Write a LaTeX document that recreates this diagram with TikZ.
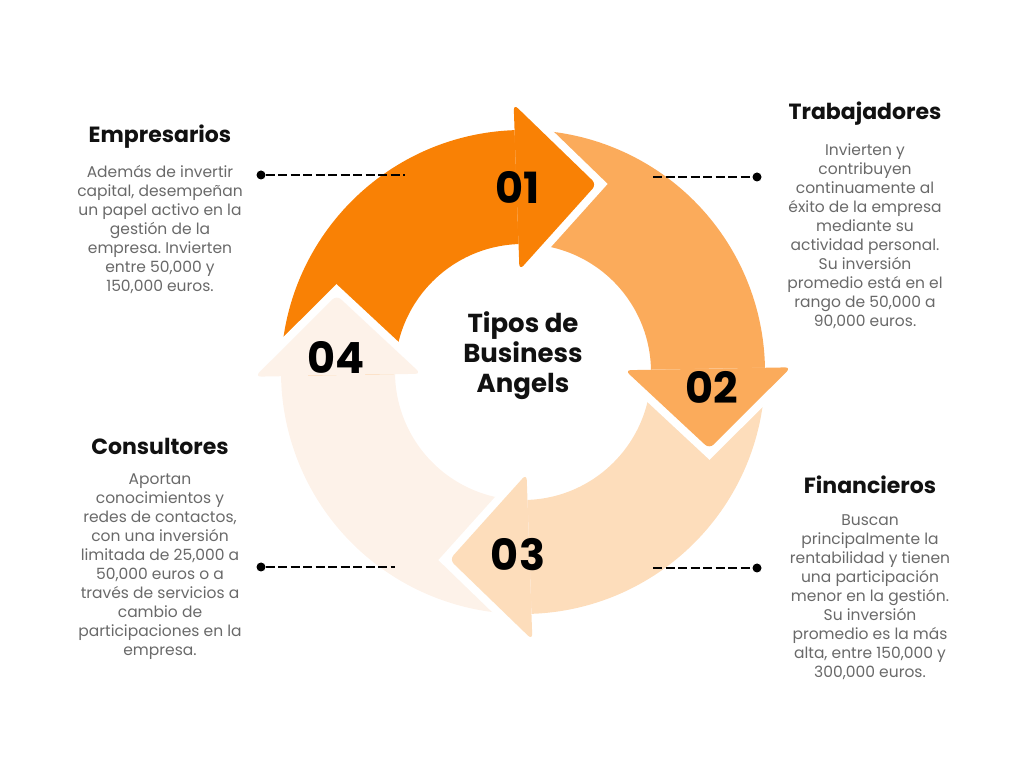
\documentclass[tikz,border=0pt]{standalone}
\usepackage{fontspec}
\setmainfont{Poppins}
\frenchspacing
\usetikzlibrary{calc}
\definecolor{segone}{RGB}{249,129,5}
\definecolor{segtwo}{RGB}{251,171,91}
\definecolor{segthree}{RGB}{253,221,187}
\definecolor{segfour}{RGB}{253,242,233}
\definecolor{titlegray}{RGB}{17,17,17}
\definecolor{descgray}{RGB}{105,105,105}
\tikzset{
  gapline/.style={white, line width=16pt},
  numlabel/.style={font=\bfseries\fontsize{43}{43}\selectfont, text=black},
  hublabel/.style={align=center, font=\bfseries\fontsize{26}{30}\selectfont, text=titlegray},
  kindtitle/.style={font=\bfseries\fontsize{22}{26}\selectfont, text=titlegray},
  kinddesc/.style={align=center, font=\fontsize{15.5}{19}\selectfont, text=descgray},
  leader/.style={line width=2.5pt, dash pattern=on 9pt off 3.5pt},
  leaderdot/.style={circle, fill=black, inner sep=0pt, minimum size=9pt}
}
% body of one ring part: start angle, end angle, colour
\newcommand{\ringpart}[3]{ \fill[#3] ($(ctr)+(#1:242pt)$) arc[start angle=#1, end angle=#2, radius=242pt] -- ($(ctr)+(#2:128pt)$) arc[start angle=#2, end angle=#1, radius=128pt] -- cycle;}
% head of one ring part: base angle, colour
\newcommand{\ringhead}[2]{
  \draw[gapline] ($(ctr)+(#1:268pt)$) -- ($(ctr)+(#1:185pt)+(#1-90:80pt)$) -- ($(ctr)+(#1:102pt)$);
  \fill[#2, rounded corners=6pt] ($(ctr)+(#1:268pt)$) -- ($(ctr)+(#1:185pt)+(#1-90:80pt)$) -- ($(ctr)+(#1:102pt)$) -- cycle;}
\begin{document}
\begin{tikzpicture}[x=1pt, y=1pt]
  \useasboundingbox (0,0) rectangle (1024,768);
  \coordinate (ctr) at (523,396);

  % ring
  \ringpart{181}{92}{segone}
  \ringpart{92}{1}{segtwo}
  \ringpart{1}{-88}{segthree}
  \ringpart{-88}{-179}{segfour}

  \ringhead{92}{segone}
  \ringhead{1}{segtwo}
  \ringhead{-88}{segthree}
  \ringhead{-179}{segfour}

  \node[numlabel] (nOne) at (518,581) {01};
  \node[numlabel] (nTwo) at (712,381) {02};
  \node[numlabel] (nThree) at (518,213) {03};
  \node[numlabel] (nFour) at (336,411) {04};
  \node[hublabel] (hub) at (523,412) {Tipos de\\Business\\Angels};

  % left column
  \node[kindtitle] (tEmp) at (160,631) {Empresarios};
  \node[kinddesc] (dEmp) at (160,538) {Además de invertir\\capital, desempeñan\\un papel activo en la\\gestión de la\\empresa. Invierten\\entre 50,000 y\\150,000 euros.};
  \node[kindtitle] (tCon) at (160,322) {Consultores};
  \node[kinddesc] (dCon) at (160,201.5) {Aportan\\conocimientos y\\redes de contactos,\\con una inversión\\limitada de 25,000 a\\50,000 euros o a\\través de servicios a\\cambio de\\participaciones en la\\empresa.};

  % right column
  \node[kindtitle] (tTra) at (865,654) {Trabajadores};
  \node[kinddesc] (dTra) at (865,531.5) {Invierten y\\contribuyen\\continuamente al\\éxito de la empresa\\mediante su\\actividad personal.\\Su inversión\\promedio está en el\\rango de 50,000 a\\90,000 euros.};
  \node[kindtitle] (tFin) at (870,283) {Financieros};
  \node[kinddesc] (dFin) at (870,171) {Buscan\\principalmente la\\rentabilidad y tienen\\una participación\\menor en la gestión.\\Su inversión\\promedio es la más\\alta, entre 150,000 y\\300,000 euros.};

  % leaders
  \node[leaderdot] (dotEmp) at (261,593) {};
  \coordinate (endEmp) at (405,593);
  \draw[leader] (dotEmp) -- (endEmp);
  \node[leaderdot] (dotTra) at (757,591) {};
  \coordinate (endTra) at (653,591);
  \draw[leader] (endTra) -- (dotTra);
  \node[leaderdot] (dotCon) at (261,201) {};
  \coordinate (endCon) at (395,201);
  \draw[leader] (dotCon) -- (endCon);
  \node[leaderdot] (dotFin) at (757,200) {};
  \coordinate (endFin) at (653,200);
  \draw[leader] (endFin) -- (dotFin);
\end{tikzpicture}
\end{document}
